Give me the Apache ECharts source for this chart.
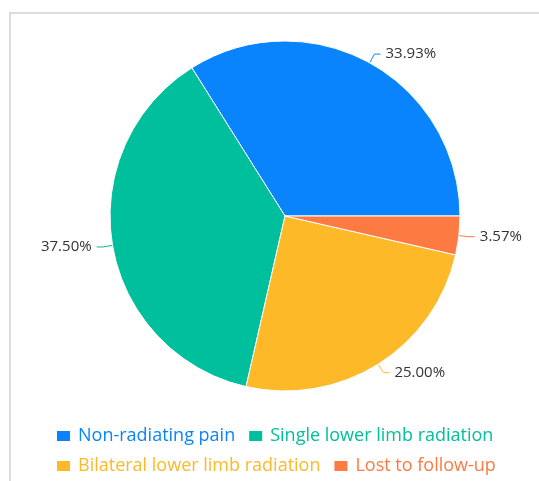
<!DOCTYPE html>
<html>
<head>
<meta charset="utf-8">
<script src="https://cdn.jsdelivr.net/npm/echarts@6/dist/echarts.min.js"></script>
<style>
  html, body { margin: 0; padding: 0; background: #fff; }
  #chart { width: 539px; height: 481px; }
</style>
</head>
<body>
<div id="chart"></div>
<script>
// Follow-up pain categories and their share of patients (%)
const categories = [
  'Non-radiating pain',
  'Single lower limb radiation',
  'Bilateral lower limb radiation',
  'Lost to follow-up'
];
const shares = [33.93, 37.50, 25.00, 3.57];
const colors = ['#0a84fc', '#00bf9c', '#fdb927', '#fd7a42'];

const chart = echarts.init(document.getElementById('chart'));

const pieData = categories.map((name, i) => ({
  name: name,
  value: shares[i],
  itemStyle: { color: colors[i] }
}));

const legendData = categories.map((name, i) => ({
  name: name,
  textStyle: { color: colors[i] }
}));

chart.setOption({
  backgroundColor: '#ffffff',
  animation: false,
  graphic: [{
    type: 'rect',
    shape: { x: 10, y: 13, width: 700, height: 700 },
    style: { fill: 'none', stroke: '#dcdcdc', lineWidth: 2 },
    silent: true
  }],
  legend: {
    data: legendData,
    left: 50,
    top: 422,
    width: 470,
    itemWidth: 15,
    itemHeight: 12,
    itemGap: 12,
    icon: 'rect',
    textStyle: { fontSize: 18, lineHeight: 13, fontFamily: 'Open Sans', padding: [0, 0, 0, 2] }
  },
  series: [{
    type: 'pie',
    center: [285, 216],
    radius: 175,
    startAngle: 0,
    clockwise: false,
    data: pieData,
    itemStyle: { borderColor: '#ffffff', borderWidth: 1 },
    label: {
      show: true,
      position: 'outside',
      formatter: p => p.value.toFixed(2) + '%',
      fontSize: 15,
      fontFamily: 'Open Sans',
      color: '#333333'
    },
    labelLine: { show: true, length: 10, length2: 6, lineStyle: { width: 1 } }
  }]
});
</script>
</body>
</html>
